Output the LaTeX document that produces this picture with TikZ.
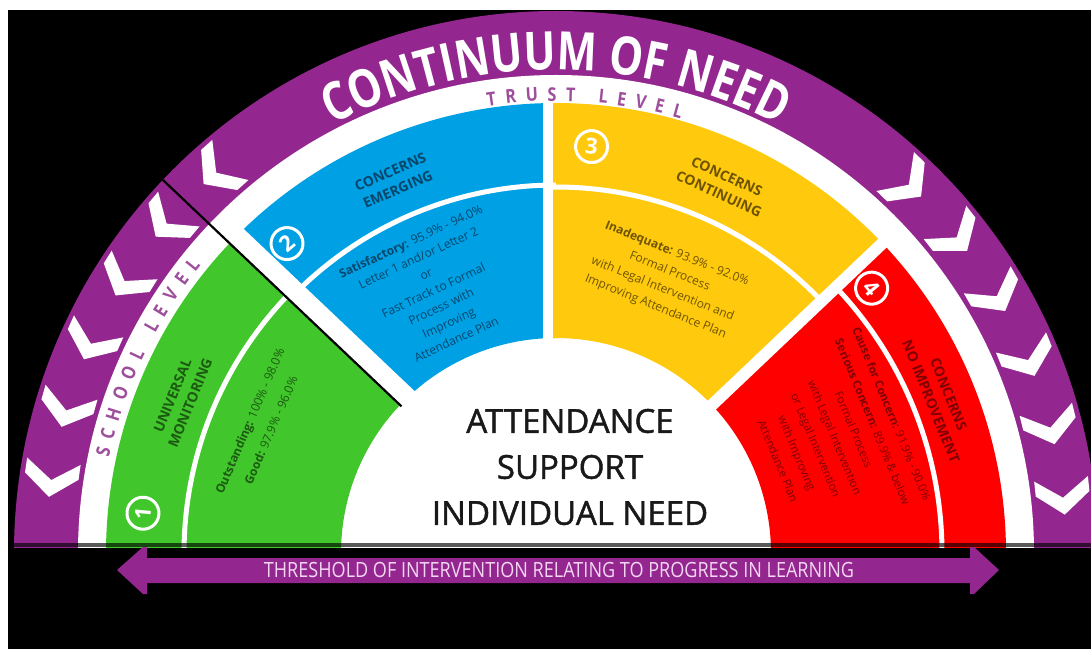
\documentclass[tikz,border=0pt]{standalone}
\usepackage{fontspec}
\usepackage{graphicx}
\setmainfont{Open Sans}
\newfontfamily\titlefont[FakeStretch=0.8]{Open Sans}
\newfontfamily\lvlfont[FakeStretch=0.85]{Open Sans}
\newfontfamily\semifont[FakeBold=1.3]{Open Sans}
\usetikzlibrary{decorations.text,calc}
\definecolor{cpurple}{HTML}{93278F}
\definecolor{cgreen}{HTML}{41C62B}
\definecolor{cblue}{HTML}{00A0E4}
\definecolor{cyellow}{HTML}{FFC90E}
\definecolor{cred}{HTML}{FF0000}
\definecolor{tgreen}{HTML}{1C5A12}
\definecolor{tblue}{HTML}{08476B}
\definecolor{tyellow}{HTML}{6E5400}
\definecolor{tred}{HTML}{7E0000}
\definecolor{lvl}{HTML}{9E4F9C}
\definecolor{arrtext}{HTML}{F3D6F2}
\newcommand\fsz[2]{\fontsize{#1}{#2}\selectfont}
\newcommand\mysector[3]{\fill[#1] (#2:215) arc[start angle=#2,end angle=#3,radius=215] -- (#3:450) arc[start angle=#3,end angle=#2,radius=450] -- cycle;}
\newcommand\chevL[1]{\fill[white,shift={(#1:510)},rotate=#1+90] (15,0) -- (-6,27) -- (-21,27) -- (-2,0) -- (-21,-27) -- (-6,-27) -- cycle;}
\newcommand\chevR[1]{\fill[white,shift={(#1:510)},rotate=#1-90] (15,0) -- (-6,27) -- (-21,27) -- (-2,0) -- (-21,-27) -- (-6,-27) -- cycle;}
\tikzset{
  stext/.style={align=center,inner sep=0pt},
  numc/.style={circle,draw=white,line width=3pt,fill=#1,text=white,minimum size=32pt,inner sep=0pt,font=\bfseries\fsz{22}{22}},
  divider/.style={white,line width=5pt}
}
\begin{document}
\begin{tikzpicture}[x=1pt,y=1pt]
\useasboundingbox (0,0) rectangle (1091,649);
\fill[white] (0,0) rectangle (1091,649);
\fill[black] (8,0) rectangle (1091,639);
\begin{scope}[shift={(556,96)}]
 \begin{scope}
  \clip (-560,6) rectangle (560,560);
  \fill[cpurple] (0,0) circle[radius=542];
  \fill[white] (0,0) circle[radius=478];
  % chevrons
  \foreach \a in {132,140,148,156,164,172} {\chevL{\a}}
  \foreach \a in {46,38,30,22,14,6} {\chevR{\a}}
  % sectors
  \mysector{cgreen}{136.5}{185}
  \mysector{cblue}{90}{136.5}
  \mysector{cyellow}{43.5}{91.4}
  \mysector{cred}{-5}{43.5}
  % dividers
  \draw[divider] (136.5:372) arc[start angle=136.5,end angle=185,radius=372];
  \draw[divider] (90:368) arc[start angle=90,end angle=136.5,radius=368];
  \draw[divider] (43.5:366) arc[start angle=43.5,end angle=91.4,radius=366];
  \draw[divider] (-5:386) arc[start angle=-5,end angle=43.5,radius=386];
  % gaps
  \draw[white,line width=10pt] (-8,200) -- (-8,462);
  \draw[white,line width=12pt] (43.5:200) -- (43.5:462);
  \draw[white,line width=20pt] ($(136.5:200)+(7,7.3)$) -- ($(136.5:462)+(7,7.3)$);
  \draw[black,line width=2.2pt] (136.5:213) -- (136.5:542);
  % arc texts
  \path[decorate,decoration={text along path,text align=center,text color=white,
     text={|\titlefont\bfseries\fsz{53}{53}|CONTINUUM OF NEED}}]
     (125:483) arc[start angle=125,end angle=55,radius=483];
  \path[decorate,decoration={text along path,text align=fit to path,text color=lvl,
     text={|\lvlfont\bfseries\fsz{19}{19}|TRUST LEVEL}}]
     (98.7:452) arc[start angle=98.7,end angle=74,radius=452];
  \path[decorate,decoration={text along path,text align=fit to path,text color=lvl,
     text={|\lvlfont\bfseries\fsz{19}{19}|SCHOOL LEVEL}}]
     (168:457) arc[start angle=168,end angle=141,radius=457];
  % sector texts
  \node[stext,rotate=67.7,text=tgreen,font=\bfseries\fsz{14}{19}] (gt) at (157.7:405) {UNIVERSAL\\MONITORING};
  \node[stext,rotate=66.7,text=tgreen,font=\fsz{12}{23}] (gb) at (156.7:322) {\textbf{Outstanding:} 100\% - 98.0\%\\\textbf{Good:} 97.9\% - 96.0\%};
  \node[stext,rotate=23.5,text=tblue,font=\bfseries\fsz{14}{19}] (bt) at (113.5:406) {CONCERNS\\EMERGING};
  \node[stext,rotate=25,text=tblue,font=\fsz{12}{18}] (bb) at (115:290) {\textbf{Satisfactory:} 95.9\% - 94.0\%\\Letter 1 and/or Letter 2\\or\\Fast Track to Formal\\Process with\\Improving\\Attendance Plan};
  \node[stext,rotate=-24.4,text=tyellow,font=\bfseries\fsz{14}{19}] (yt) at (65.6:404) {CONCERNS\\CONTINUING};
  \node[stext,rotate=-22,text=tyellow,font=\fsz{12}{19}] (yb) at (68:294) {\textbf{Inadequate:} 93.9\% - 92.0\%\\Formal Process\\with Legal Intervention and\\Improving Attendance Plan};
  \node[stext,rotate=-68,text=tred,font=\bfseries\fsz{14}{19}] (rt) at (22:414) {CONCERNS\\NO IMPROVEMENT};
  \node[stext,rotate=-67.5,text=tred,font=\fsz{11.5}{20.5}] (rb) at (22.5:302) {\textbf{Cause for Concern:} 91.9\% - 90.0\%\\\textbf{Serious Concern:} 89.9\% \& below\\Formal Process\\with Legal Intervention\\or Legal Intervention\\with Improving\\Attendance Plan};
  % number badges
  \node[numc=cgreen,rotate=84.5] (n1) at (174.5:415) {1};
  \node[numc=cblue,rotate=41] (n2) at (131:410) {2};
  \node[numc=cyellow,rotate=-5] (n3) at (85:408) {3};
  \node[numc=cred,rotate=-50] (n4) at (40:412) {4};
 \end{scope}
\end{scope}
\node[align=center,text=black!90,font=\semifont\fsz{33}{46}] (att) at (570,182) {ATTENDANCE\\SUPPORT\\INDIVIDUAL NEED};
% baseline shadow strip
\fill[black,opacity=0.65] (8,102) rectangle (1091,106);
% threshold arrow
\fill[cpurple] (117,79) -- (143,102) -- (147,102) -- (147,91) -- (970,91) -- (970,102) -- (974,102) -- (999,79) -- (974,55) -- (970,55) -- (970,66) -- (147,66) -- (147,55) -- (143,55) -- cycle;
\node[text=arrtext,font=\fsz{21}{21},inner sep=0pt] (thr) at (559,79) {\scalebox{0.86}[1]{THRESHOLD OF INTERVENTION RELATING TO PROGRESS IN LEARNING}};
\end{tikzpicture}
\end{document}
